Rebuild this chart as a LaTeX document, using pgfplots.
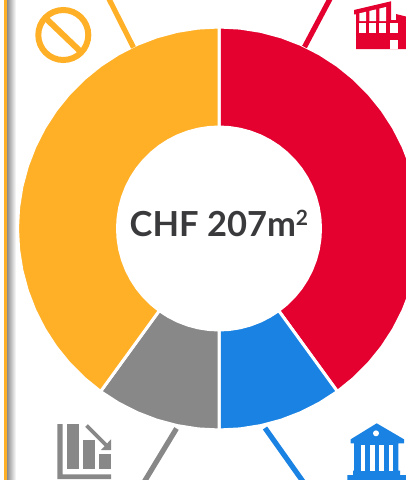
\documentclass[border=0pt]{standalone}
\usepackage{fontspec}
\setmainfont{Lato}
\usepackage{pgfplots}
\pgfplotsset{compat=1.18}
\definecolor{cyellow}{HTML}{FFB027}
\definecolor{cred}{HTML}{E4002F}
\definecolor{cblue}{HTML}{1A82E2}
\definecolor{cgrey}{HTML}{888888}
\definecolor{ctext}{HTML}{3A3A3C}
\pgfplotsset{pxaxis/.style={
  at={(0pt,0pt)}, anchor=south west, scale only axis,
  width=406pt, height=480pt, hide axis}}
\begin{document}
\begin{tikzpicture}
\path[use as bounding box, clip] (0pt,0pt) rectangle (406pt,480pt);
% donut, shares 40/10/10/40, (angle,radius) about the centre
\begin{axis}[pxaxis, xmin=-219, xmax=187, ymin=-251.5, ymax=228.5]
\addplot[data cs=polar, fill=cred, draw=white, line width=3pt, line join=round] coordinates {
 (90,201.5)(84,201.5)(78,201.5)(72,201.5)(66,201.5)(60,201.5)(54,201.5)(48,201.5)(42,201.5)(36,201.5)(30,201.5)(24,201.5)(18,201.5)
 (12,201.5)(6,201.5)(0,201.5)(-6,201.5)(-12,201.5)(-18,201.5)(-24,201.5)(-30,201.5)(-36,201.5)(-42,201.5)(-48,201.5)(-54,201.5)
 (-54,101.5)(-48,101.5)(-42,101.5)(-36,101.5)(-30,101.5)(-24,101.5)(-18,101.5)(-12,101.5)(-6,101.5)(0,101.5)(6,101.5)(12,101.5)
 (18,101.5)(24,101.5)(30,101.5)(36,101.5)(42,101.5)(48,101.5)(54,101.5)(60,101.5)(66,101.5)(72,101.5)(78,101.5)(84,101.5)(90,101.5)
} -- cycle;
\addplot[data cs=polar, fill=cblue, draw=white, line width=3pt, line join=round] coordinates {
 (-54,201.5)(-60,201.5)(-66,201.5)(-72,201.5)(-78,201.5)(-84,201.5)(-90,201.5)
 (-90,101.5)(-84,101.5)(-78,101.5)(-72,101.5)(-66,101.5)(-60,101.5)(-54,101.5)
} -- cycle;
\addplot[data cs=polar, fill=cgrey, draw=white, line width=3pt, line join=round] coordinates {
 (-90,201.5)(-96,201.5)(-102,201.5)(-108,201.5)(-114,201.5)(-120,201.5)(-126,201.5)
 (-126,101.5)(-120,101.5)(-114,101.5)(-108,101.5)(-102,101.5)(-96,101.5)(-90,101.5)
} -- cycle;
\addplot[data cs=polar, fill=cyellow, draw=white, line width=3pt, line join=round] coordinates {
 (234,201.5)(228,201.5)(222,201.5)(216,201.5)(210,201.5)(204,201.5)(198,201.5)(192,201.5)(186,201.5)(180,201.5)(174,201.5)(168,201.5)
 (162,201.5)(156,201.5)(150,201.5)(144,201.5)(138,201.5)(132,201.5)(126,201.5)(120,201.5)(114,201.5)(108,201.5)(102,201.5)(96,201.5)(90,201.5)
 (90,101.5)(96,101.5)(102,101.5)(108,101.5)(114,101.5)(120,101.5)(126,101.5)(132,101.5)(138,101.5)(144,101.5)(150,101.5)(156,101.5)
 (162,101.5)(168,101.5)(174,101.5)(180,101.5)(186,101.5)(192,101.5)(198,101.5)(204,101.5)(210,101.5)(216,101.5)(222,101.5)(228,101.5)(234,101.5)
} -- cycle;
\end{axis}
% everything else in image pixels, y downwards
\begin{axis}[pxaxis, xmin=0, xmax=406, ymin=0, ymax=480, y dir=reverse, clip=false]
% side stripe and its shadow
\fill[left color=black!45, right color=white, draw=none] (axis cs:7,0) rectangle (axis cs:16,480);
\fill[cyellow] (axis cs:4,0) rectangle (axis cs:7,480);
% leader lines
\addplot[cyellow, line width=5.2pt] coordinates {(133.5,47.5)(108,-3)};
\addplot[cred, line width=5.2pt] coordinates {(304.5,47)(331,-3)};
\addplot[cgrey, line width=5.2pt] coordinates {(176.5,428.5)(143.5,483)};
\addplot[cblue, line width=5.2pt] coordinates {(265,428)(304,483)};
% no sign
\draw[cyellow, line width=6pt] (axis cs:63.3,35) circle[radius=25pt];
\draw[cyellow, line width=6pt] (axis cs:46,18.5) -- (axis cs:81,52);
% factory
\fill[cred] (axis cs:354,10) -- (axis cs:391,1.3) -- (axis cs:391,20) -- (axis cs:396,20) -- (axis cs:396,14)
  -- (axis cs:408,17) -- (axis cs:408,49) -- (axis cs:356,49) -- (axis cs:356,14.3) -- (axis cs:354,14.3) -- cycle;
\fill[white] (axis cs:359.3,13.3) -- (axis cs:366,11.8) -- (axis cs:366,21) -- (axis cs:359.3,21) -- cycle;
\fill[white] (axis cs:369.3,11) -- (axis cs:376,9.4) -- (axis cs:376,21) -- (axis cs:369.3,21) -- cycle;
\fill[white] (axis cs:379.3,8.6) -- (axis cs:386,7) -- (axis cs:386,21) -- (axis cs:379.3,21) -- cycle;
\fill[white] (axis cs:359.3,23.3) rectangle (axis cs:366,32.7);
\fill[white] (axis cs:369.3,23.3) rectangle (axis cs:376,32.7);
\fill[white] (axis cs:379.3,23.3) rectangle (axis cs:386,32.7);
\fill[white] (axis cs:390.3,23.3) rectangle (axis cs:397.7,32.7);
\fill[white] (axis cs:390.3,40) rectangle (axis cs:397.7,49);
% falling bars
\fill[cgrey] (axis cs:57.3,424) -- (axis cs:62.5,424) -- (axis cs:62.5,474.3) -- (axis cs:111,474.3)
  -- (axis cs:111,479) -- (axis cs:57.3,479) -- cycle;
\fill[cgrey] (axis cs:66.7,424) rectangle (axis cs:78.7,469.3);
\fill[cgrey] (axis cs:83.3,440) rectangle (axis cs:95,469.3);
\fill[cgrey] (axis cs:99,453.7) rectangle (axis cs:111,469.3);
\draw[cgrey, line width=3.8pt] (axis cs:86.5,425.5) -- (axis cs:106,445);
\fill[cgrey] (axis cs:111,439.3) -- (axis cs:111,450) -- (axis cs:101,450) -- cycle;
% bank
\fill[cblue] (axis cs:376.7,423.3) -- (axis cs:404,439.3) -- (axis cs:404,443.3) -- (axis cs:398.3,443.3)
  -- (axis cs:398.3,470.7) -- (axis cs:400,470.7) -- (axis cs:400,475) -- (axis cs:406,475) -- (axis cs:406,480)
  -- (axis cs:347.3,480) -- (axis cs:347.3,475) -- (axis cs:353,475) -- (axis cs:353,470.7) -- (axis cs:354,470.7)
  -- (axis cs:354,443.3) -- (axis cs:350.7,443.3) -- (axis cs:350.7,439.3) -- cycle;
\fill[white] (axis cs:376,433.3) circle[radius=3pt];
\fill[white] (axis cs:360.7,444.5) rectangle (axis cs:365.3,470.7);
\fill[white] (axis cs:370,444.5) rectangle (axis cs:374.7,470.7);
\fill[white] (axis cs:379.3,444.5) rectangle (axis cs:384,470.7);
\fill[white] (axis cs:388.7,444.5) rectangle (axis cs:393.3,470.7);
% centre label
\node[anchor=base west, inner sep=0pt, text=ctext, font=\fontsize{34.5}{34.5}\selectfont\bfseries]
  at (axis cs:129.5,236.7) {CHF 207m\raisebox{11pt}{\fontsize{21}{21}\selectfont 2}};
\end{axis}
\end{tikzpicture}
\end{document}
